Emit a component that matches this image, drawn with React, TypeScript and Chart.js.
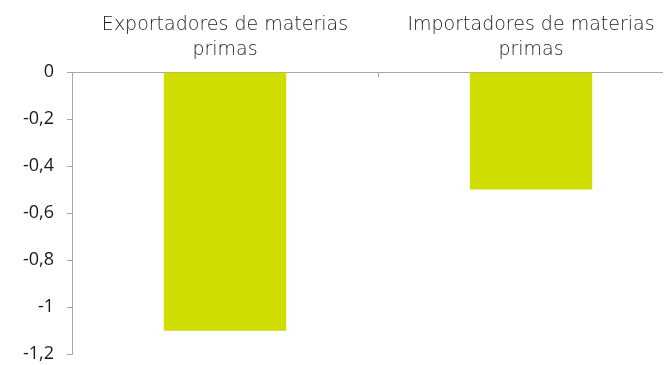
import React, { useEffect, useRef } from "react";
import { Chart, registerables } from "chart.js";

Chart.register(...registerables);

const categories: string[][] = [
  ["Exportadores de materias", "primas"],
  ["Importadores de materias", "primas"],
];
const values: number[] = [-1.1, -0.5];
const yMin = -1.2;
const yMax = 0;
const yStep = 0.2;

const AXIS_COLOR = "#A6A6A6";
const BAR_COLOR = "#D0DD00";
const TEXT_COLOR = "#1A1A1A";
const FONT = "'DejaVu Sans', 'Open Sans', sans-serif";
const TICK_FONT = "'Open Sans', 'DejaVu Sans', sans-serif";

const categoryTicks = {
  id: "categoryTicks",
  afterDraw(chart: any) {
    const x = chart.scales.x;
    const ctx = chart.ctx;
    ctx.save();
    ctx.strokeStyle = AXIS_COLOR;
    ctx.lineWidth = 1;
    for (let i = 1; i < categories.length; i++) {
      const px = Math.round((x.getPixelForValue(i - 1) + x.getPixelForValue(i)) / 2) + 0.5;
      ctx.beginPath();
      ctx.moveTo(px, x.bottom);
      ctx.lineTo(px, x.bottom + 5);
      ctx.stroke();
    }
    ctx.restore();
  },
};

export default function App() {
  const ref = useRef<HTMLCanvasElement | null>(null);
  useEffect(() => {
    if (!ref.current) return;
    const chart = new Chart(ref.current, {
      type: "bar",
      data: {
        labels: categories,
        datasets: [
          {
            data: values,
            backgroundColor: BAR_COLOR,
            borderWidth: 0,
            categoryPercentage: 1,
            barPercentage: 0.4,
          },
        ],
      },
      options: {
        responsive: false,
        animation: false,
        layout: { padding: { left: 0, right: 0, top: 0, bottom: 0 } },
        plugins: { legend: { display: false }, tooltip: { enabled: false } },
        scales: {
          x: {
            position: "top",
            offset: true,
            grid: { display: false, drawTicks: false },
            border: { display: true, color: AXIS_COLOR, width: 1 },
            ticks: {
              padding: 10,
              color: TEXT_COLOR,
              font: { family: FONT, size: 19, weight: 200, lineHeight: 1.3 },
              maxRotation: 0,
            },
            afterFit: (s: any) => {
              s.height = 64;
            },
          },
          y: {
            min: yMin,
            max: yMax,
            grid: { display: true, drawOnChartArea: false, drawTicks: true, tickLength: 5, color: AXIS_COLOR },
            border: { display: true, color: AXIS_COLOR, width: 1 },
            ticks: {
              stepSize: yStep,
              padding: 13,
              color: TEXT_COLOR,
              font: { family: TICK_FONT, size: 18 },
              callback: (v: any) => {
                const n = Math.round(Number(v) * 10) / 10;
                return String(n).replace(".", ",");
              },
            },
            afterFit: (s: any) => {
              s.width = 64;
            },
          },
        },
      },
      plugins: [categoryTicks],
    });
    return () => chart.destroy();
  }, []);
  return (
    <div style={{ width: 663, height: 357, overflow: "hidden" }}>
      <canvas ref={ref} width={676} height={370} style={{ display: "block" }} />
    </div>
  );
}
